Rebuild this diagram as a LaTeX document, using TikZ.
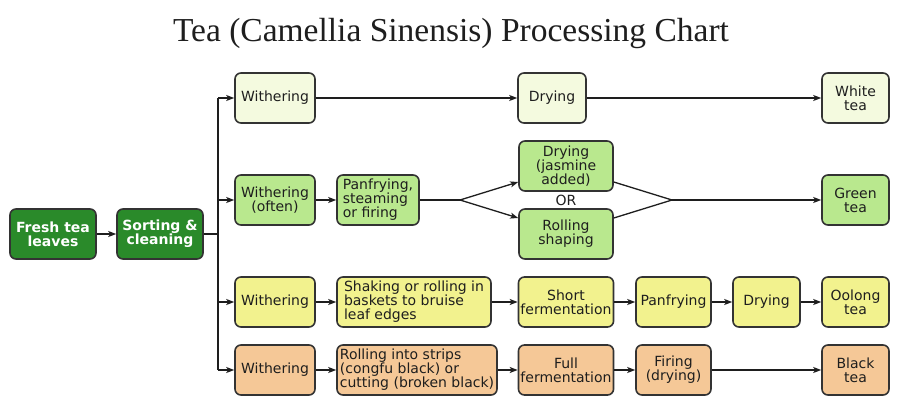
\documentclass[tikz,border=0pt]{standalone}
\usepackage{fontspec}
\usetikzlibrary{arrows.meta}
\newfontfamily\boxfont{DejaVu Sans}
\newfontfamily\titlefont{Liberation Serif}
\definecolor{dgreen}{HTML}{2A8A2A}
\definecolor{wfill}{HTML}{F4FADF}
\definecolor{gfill}{HTML}{B9E88E}
\definecolor{yfill}{HTML}{F2F28E}
\definecolor{pfill}{HTML}{F5C897}
\definecolor{edge}{HTML}{333333}
\definecolor{txt}{HTML}{1E1E1E}
\tikzset{
  box/.style={draw=edge, line width=1.6pt, rounded corners=6pt, align=center,
    inner xsep=2pt, inner ysep=2pt, minimum height=50pt, text=txt,
    font=\boxfont\fontsize{14}{14}\selectfont},
  lbox/.style={box, align=left},
  start/.style={box, fill=dgreen, text=white, font=\boxfont\bfseries\fontsize{14}{14}\selectfont},
  wbox/.style={box, fill=wfill},
  gbox/.style={box, fill=gfill},
  ybox/.style={box, fill=yfill},
  pbox/.style={box, fill=pfill},
  arr/.style={draw=txt, line width=1.3pt, -{Stealth[length=8pt,width=6pt,inset=2pt]}},
  ln/.style={draw=txt, line width=1.3pt},
}
\begin{document}
\begin{tikzpicture}[x=1pt,y=-1pt]
\useasboundingbox (0,0) rectangle (900,420);
\fill[white] (0,0) rectangle (900,420);
\node[anchor=base, font=\titlefont\fontsize{33.5}{36}\selectfont, text=txt] (title) at (451,42) {Tea (Camellia Sinensis) Processing Chart};
% left
\node[start, minimum width=86pt] (fresh) at (53,234) {Fresh tea\\leaves};
\node[start, minimum width=86pt] (sort) at (160,234) {Sorting \&\\cleaning};
% row 1
\node[wbox, minimum width=80pt] (w1) at (275,98) {Withering};
\node[wbox, minimum width=68pt] (dry1) at (552,98) {Drying};
\node[wbox, minimum width=67pt] (white) at (855.5,98) {White\\tea};
% row 2
\node[gbox, minimum width=80pt] (w2) at (275,200) {Withering\\(often)};
\node[gbox, lbox, minimum width=82pt] (pan2) at (378,200) {Panfrying,\\steaming\\or firing};
\node[gbox, minimum width=94pt] (dryj) at (566,166) {Drying\\(jasmine\\added)};
\node[gbox, minimum width=94pt] (roll) at (566,234) {Rolling\\shaping};
\node[font=\boxfont\fontsize{14}{14}\selectfont, text=txt, inner sep=0pt] (or) at (566,200) {OR};
\node[gbox, minimum width=67pt] (green) at (855.5,200) {Green\\tea};
% row 3
\node[ybox, minimum width=80pt] (w3) at (275,302) {Withering};
\node[ybox, lbox, minimum width=154pt] (shake) at (414,302) {Shaking or rolling in\\baskets to bruise\\leaf edges};
\node[ybox, minimum width=94pt] (short) at (566,302) {Short\\fermentation};
\node[ybox, minimum width=75pt] (pan3) at (673.5,302) {Panfrying};
\node[ybox, minimum width=67pt] (dry3) at (766.5,302) {Drying};
\node[ybox, minimum width=67pt] (oolong) at (855.5,302) {Oolong\\tea};
% row 4
\node[pbox, minimum width=80pt] (w4) at (275,370) {Withering};
\node[pbox, lbox, minimum width=160pt] (strip) at (417,370) {Rolling into strips\\(congfu black) or\\cutting (broken black)};
\node[pbox, minimum width=94pt] (full) at (566,370) {Full\\fermentation};
\node[pbox, minimum width=75pt] (fire) at (673.5,370) {Firing\\(drying)};
\node[pbox, minimum width=67pt] (black) at (855.5,370) {Black\\tea};
% coordinates
\coordinate (tj) at (218,234);
\coordinate (t1) at (218,98);
\coordinate (t2) at (218,200);
\coordinate (t3) at (218,302);
\coordinate (t4) at (218,370);
\coordinate (split) at (460,200);
\coordinate (merge) at (672,200);
% connectors
\draw[arr] (fresh) -- (sort);
\draw[ln] (sort) -- (tj);
\draw[ln] (t1) -- (t4);
\draw[arr] (t1) -- (w1);
\draw[arr] (t2) -- (w2);
\draw[arr] (t3) -- (w3);
\draw[arr] (t4) -- (w4);
\draw[arr] (w1) -- (dry1);
\draw[arr] (dry1) -- (white);
\draw[arr] (w2) -- (pan2);
\draw[ln] (pan2) -- (split);
\draw[arr] (split) -- (dryj.west |- 0,182);
\draw[arr] (split) -- (roll.west |- 0,218);
\draw[ln] (dryj.east |- 0,182) -- (merge);
\draw[ln] (roll.east |- 0,218) -- (merge);
\draw[arr] (merge) -- (green);
\draw[arr] (w3) -- (shake);
\draw[arr] (shake) -- (short);
\draw[arr] (short) -- (pan3);
\draw[arr] (pan3) -- (dry3);
\draw[arr] (dry3) -- (oolong);
\draw[arr] (w4) -- (strip);
\draw[arr] (strip) -- (full);
\draw[arr] (full) -- (fire);
\draw[arr] (fire) -- (black);
\end{tikzpicture}
\end{document}
